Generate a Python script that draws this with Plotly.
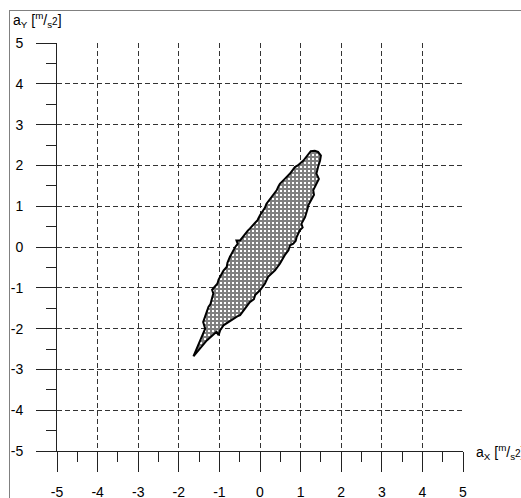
import plotly.graph_objects as go

# Outline of the acceleration envelope (a_X, a_Y) in m/s^2
ax_vals = [-1.64, -1.48, -1.38, -1.35, -1.40, -1.36, -1.30, -1.27, -1.22, -1.19, -1.15, -1.18,
           -1.05, -1.02, -0.95, -0.90, -0.82, -0.80, -0.74, -0.70, -0.66, -0.61, -0.55, -0.58,
           -0.49, -0.40, -0.37, -0.30, -0.25, -0.12, -0.06, 0.00, 0.08, 0.12, 0.16, 0.29,
           0.41, 0.45, 0.49, 0.61, 0.74, 0.86, 0.93, 1.07, 1.19, 1.25, 1.35, 1.43,
           1.50, 1.48, 1.43, 1.39, 1.45, 1.39, 1.31, 1.33, 1.27, 1.19, 1.17, 1.15,
           1.11, 1.02, 1.05, 0.98, 0.90, 0.88, 0.82, 0.74, 0.70, 0.61, 0.55, 0.49,
           0.37, 0.32, 0.20, 0.12, 0.00, -0.12, -0.15, -0.25, -0.37, -0.49, -0.56, -0.66,
           -0.78, -0.90, -0.98, -1.02, -1.07, -1.31]
ay_vals = [-2.68, -2.29, -2.08, -2.00, -1.84, -1.71, -1.55, -1.47, -1.40, -1.31, -1.14, -1.05,
           -0.90, -0.80, -0.65, -0.58, -0.49, -0.38, -0.24, -0.16, -0.08, 0.00, 0.08, 0.16,
           0.16, 0.28, 0.33, 0.40, 0.45, 0.61, 0.66, 0.78, 0.90, 0.96, 1.06, 1.22,
           1.39, 1.48, 1.55, 1.67, 1.80, 1.96, 2.00, 2.12, 2.29, 2.35, 2.36, 2.33,
           2.24, 2.12, 1.96, 1.80, 1.67, 1.55, 1.39, 1.28, 1.18, 1.02, 0.93, 0.86,
           0.73, 0.57, 0.48, 0.41, 0.24, 0.15, 0.08, 0.04, -0.08, -0.20, -0.30, -0.41,
           -0.57, -0.62, -0.73, -0.90, -1.06, -1.18, -1.28, -1.35, -1.51, -1.67, -1.70, -1.76,
           -1.85, -1.92, -2.04, -2.16, -2.08, -2.29]

tick_vals = [-5, -4, -3, -2, -1, 0, 1, 2, 3, 4, 5]
tick_text = ["-5", "-4", "-3", "-2", "-1", "0", "1", "2", "3", "4", "5"]

x_poly = ax_vals + [ax_vals[0]]
y_poly = ay_vals + [ay_vals[0]]

fig = go.Figure()
fig.add_trace(go.Scatter(
    x=x_poly, y=y_poly, mode="lines", fill="toself",
    line=dict(color="black", width=2),
    fillcolor="white",
    fillpattern=dict(shape="+", fgcolor="black", bgcolor="white", size=4, solidity=0.75),
    showlegend=False, hoverinfo="skip",
))

axis_common = dict(
    range=[-5, 5], tickmode="array", tickvals=tick_vals, ticktext=tick_text,
    showgrid=True, gridcolor="#333333", gridwidth=1, griddash="5px,3px",
    showline=True, linecolor="#222222", linewidth=1,
    ticks="outside", ticklen=20, tickcolor="#222222", tickwidth=1,
    zeroline=False, fixedrange=True, automargin=False,
    tickfont=dict(family="Liberation Sans, Arial", size=14, color="black"),
    minor=dict(dtick=0.5, tick0=0, ticks="outside", ticklen=10, tickcolor="#222222",
               tickwidth=1, showgrid=False),
)

fig.update_xaxes(**axis_common, ticklabelstandoff=8)
fig.update_yaxes(**axis_common, ticklabelstandoff=10)

frame_x = (9.5 - 57) / 406
frame_y = (451 - 10.5) / 408

fig.update_layout(
    width=521, height=498,
    margin=dict(l=57, r=58, t=43, b=47, autoexpand=False),
    paper_bgcolor="white", plot_bgcolor="white",
    font=dict(family="Liberation Sans, Arial", size=14, color="black"),
    shapes=[
        dict(type="line", xref="paper", yref="paper", x0=frame_x, x1=1.1, y0=frame_y, y1=frame_y,
             line=dict(color="#808080", width=1)),
        dict(type="line", xref="paper", yref="paper", x0=frame_x, x1=frame_x, y0=-0.1, y1=frame_y,
             line=dict(color="#808080", width=1)),
    ],
    annotations=[
        dict(text='a<sub>Y</sub> [<sup>m</sup>/<sub>s</sub><span style="font-size:10px">2</span>]',
             xref="paper", yref="paper", x=(11 - 57) / 406, y=(451 - 20) / 408,
             xanchor="left", yanchor="middle", showarrow=False,
             font=dict(family="Liberation Sans, Arial", size=14, color="black")),
        dict(text='a<sub>X</sub> [<sup>m</sup>/<sub>s</sub><span style="font-size:10px">2</span>]',
             xref="paper", yref="paper", x=(474 - 57) / 406, y=(451 - 452) / 408,
             xanchor="left", yanchor="middle", showarrow=False,
             font=dict(family="Liberation Sans, Arial", size=14, color="black")),
    ],
)

frame_js = (
    "document.body.style.margin='0';document.body.style.overflow='hidden';"
    "var fr=document.createElement('div');"
    "fr.style.cssText='position:fixed;left:9px;top:10px;width:600px;height:600px;z-index:9999;"
    "border-left:1px solid #808080;border-top:1px solid #808080;pointer-events:none;';"
    "document.body.appendChild(fr);"
)

fig.write_html("out.html", config={"displayModeBar": False, "staticPlot": True},
               post_script=frame_js)
